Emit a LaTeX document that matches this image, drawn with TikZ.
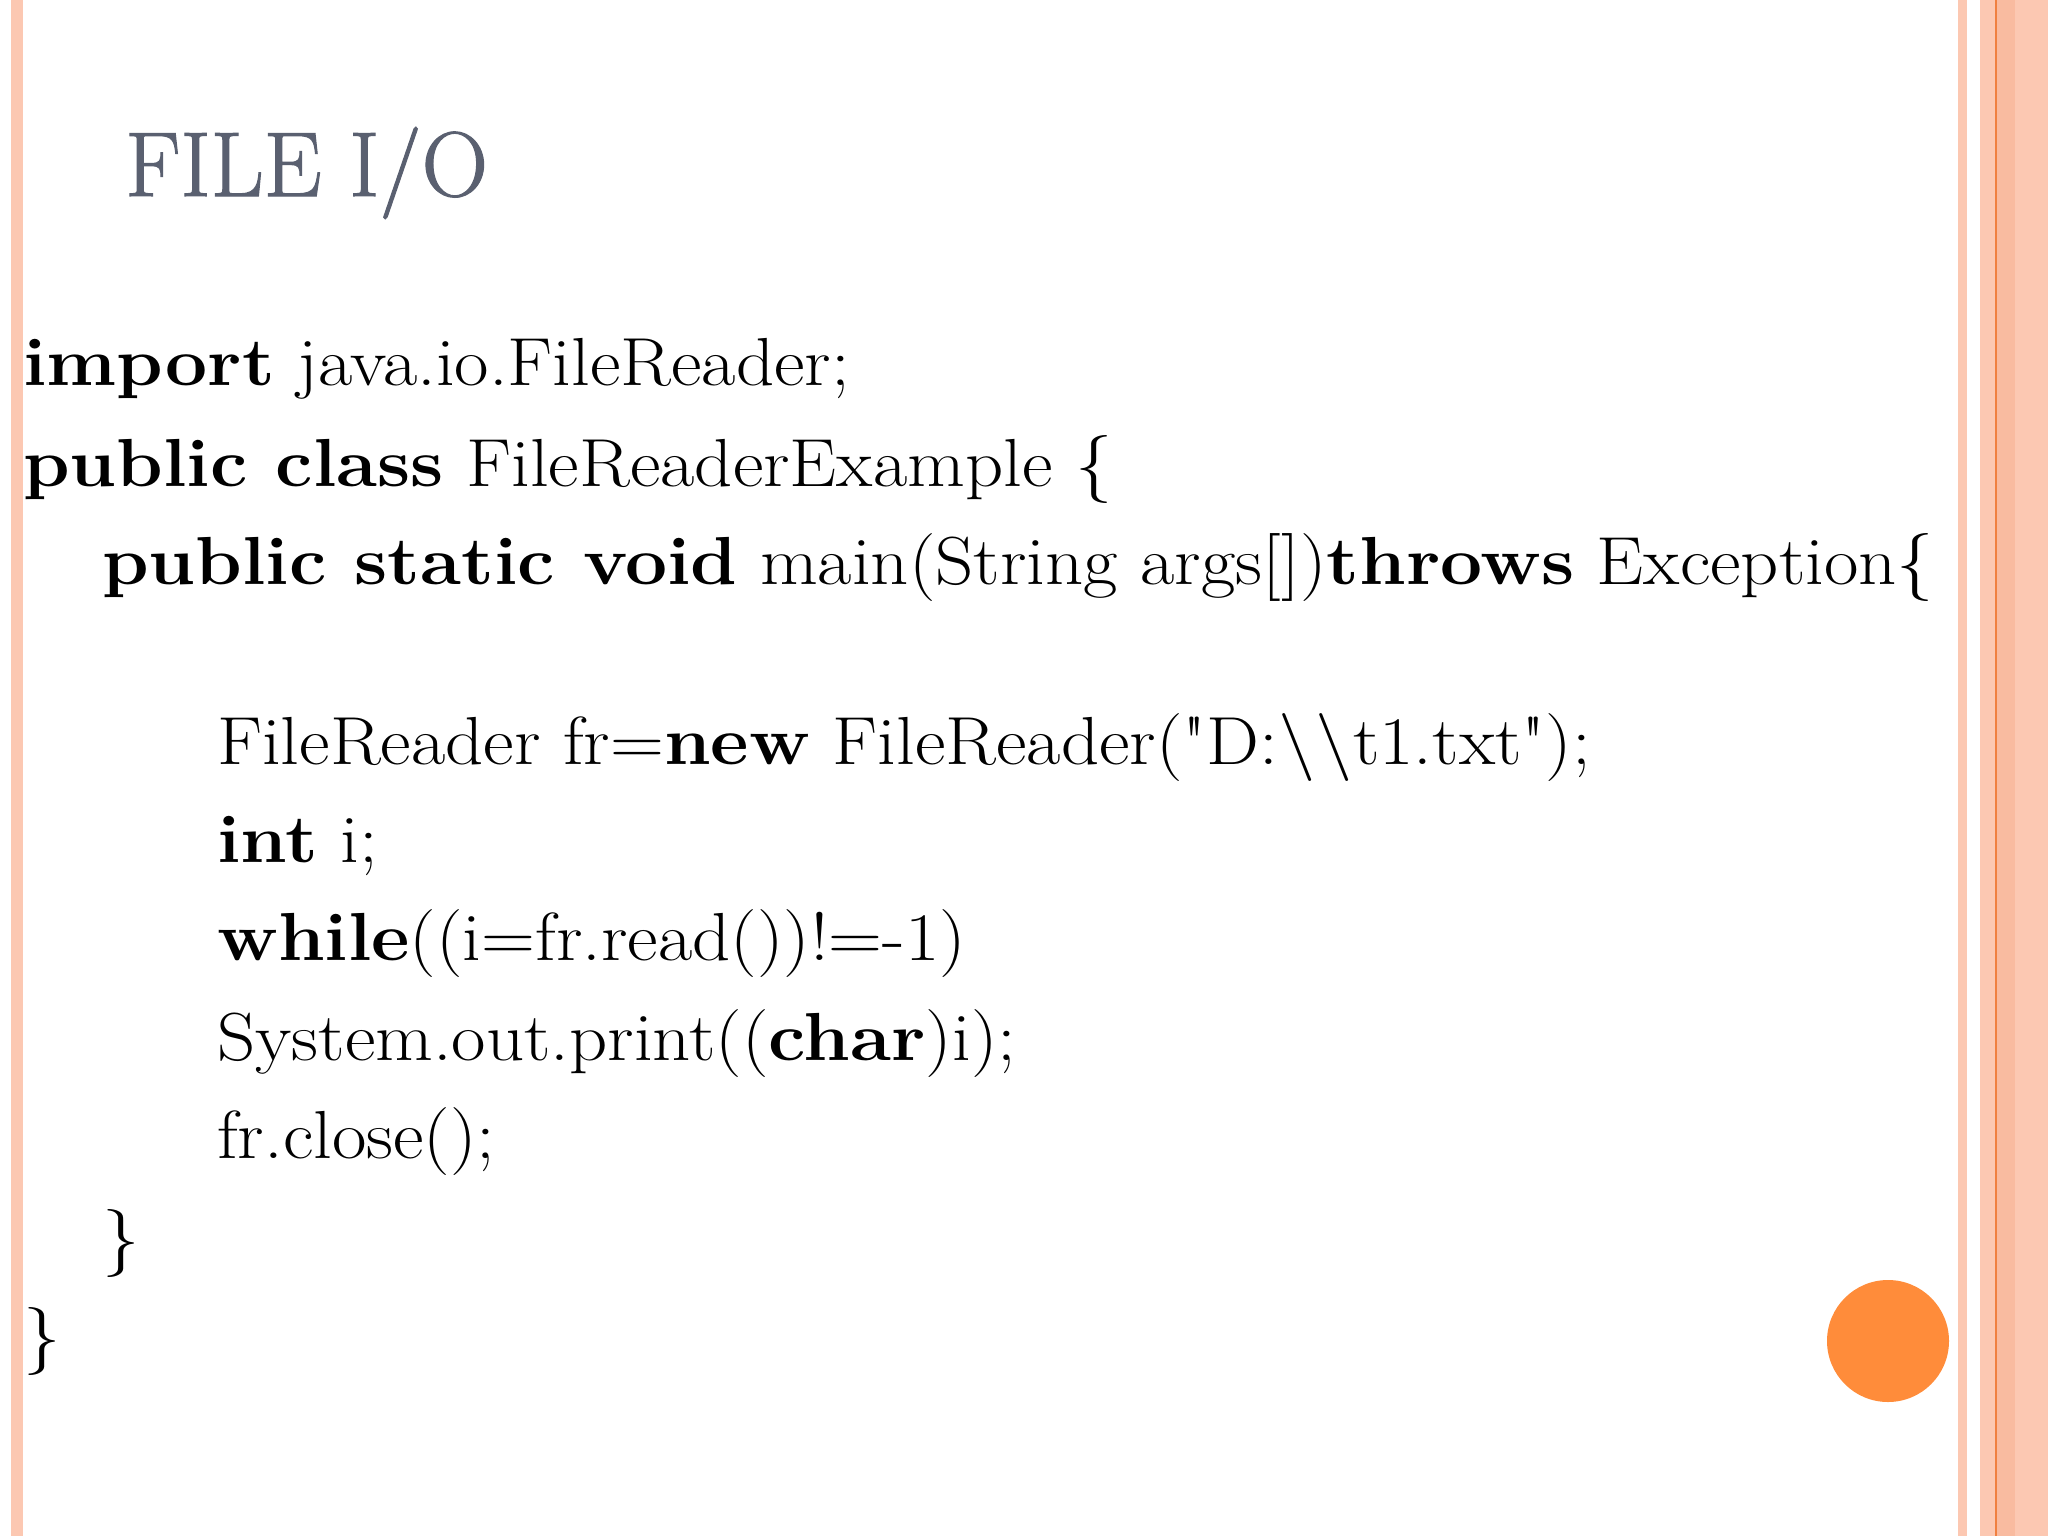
\documentclass[tikz,border=0pt]{standalone}
\usepackage{fontspec}
\setmainfont{Latin Modern Roman}[FakeStretch=1.1]
\newfontfamily\plainq{Latin Modern Roman}[FakeStretch=1.1]
\newfontfamily\titlefont{Latin Modern Roman}[FakeBold=1.2]
\definecolor{peach}{HTML}{FCC8B2}
\definecolor{peachd}{HTML}{F9BBA0}
\definecolor{orl}{HTML}{F08040}
\definecolor{dot}{HTML}{FF8C3A}
\definecolor{titlec}{HTML}{5A6070}
\begin{document}
\begin{tikzpicture}[x=1pt,y=-1pt,
  code/.style={anchor=base west,inner sep=0pt,font=\fontsize{68}{80}\selectfont}]
\useasboundingbox (0,0) rectangle (2048,1536);
\fill[white] (0,0) rectangle (2048,1536);
\fill[peach] (11,0) rectangle (23,1536);
\fill[peach] (1958,0) rectangle (1967,1536);
\fill[peach] (1980,0) rectangle (2048,1536);
\fill[peachd] (1996,0) rectangle (2015,1536);
\draw[orl,line width=2] (1996,0) -- (1996,1536);
\node[anchor=base west,inner sep=0pt,text=titlec,font=\titlefont\fontsize{92}{110}\selectfont] (title) at (125,196) {FILE I/O};
\node[code] (l1) at (23,385) {\textbf{import} java.io.FileReader;};
\node[code] (l2) at (23,486) {\textbf{public class} FileReaderExample \{};
\node[code] (l3) at (102,584) {\textbf{public static void} main(String args[])\textbf{throws} Exception\{};
\node[code] (l4) at (217,764) {FileReader fr=\textbf{new} FileReader({\plainq"}D:\textbackslash\textbackslash t1.txt{\plainq"});};
\node[code] (l5) at (217,862) {\textbf{int} i;};
\node[code] (l6) at (217,960) {\textbf{while}((i=fr.read())!=-1)};
\node[code] (l7) at (217,1060) {System.out.print((\textbf{char})i);};
\node[code] (l8) at (217,1158) {fr.close();};
\node[code] (l9) at (102,1260) {\}};
\node[code] (l10) at (23,1358) {\}};
\fill[dot] (1888,1341) circle (61) node (c) {};
\end{tikzpicture}
\end{document}
